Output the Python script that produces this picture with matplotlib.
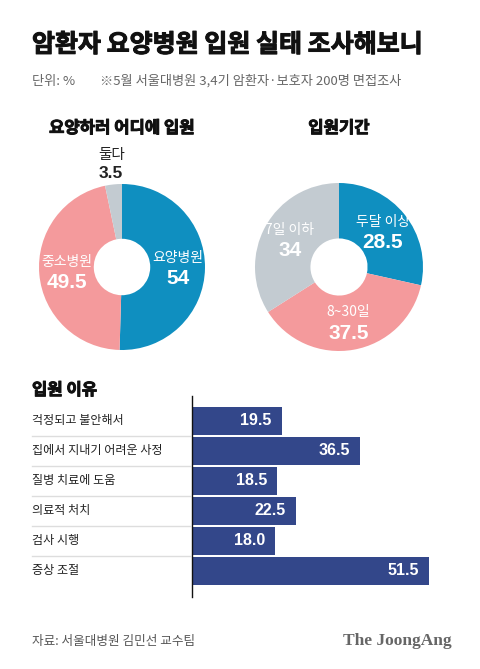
import matplotlib
matplotlib.use('Agg')
import matplotlib.pyplot as plt
import numpy as np
from matplotlib.transforms import blended_transform_factory
from matplotlib.lines import Line2D
import matplotlib.patheffects as pe

plt.rcParams['font.family'] = ['Noto Sans CJK KR', 'DejaVu Sans']

# data
where_labels = ['요양병원', '중소병원', '둘다']
where_values = [54, 49.5, 3.5]
where_colors = ['#0f8fc0', '#f49a9c', '#c3cbd1']

period_labels = ['두달 이상', '8~30일', '7일 이하']
period_values = [28.5, 37.5, 34]
period_colors = ['#0f8fc0', '#f49a9c', '#c3cbd1']

reason_labels = ['걱정되고 불안해서', '집에서 지내기 어려운 사정', '질병 치료에 도움',
                 '의료적 처치', '검사 시행', '증상 조절']
reason_values = [19.5, 36.5, 18.5, 22.5, 18.0, 51.5]
bar_color = '#33478a'

W, H = 480, 669
fig = plt.figure(figsize=(W / 100, H / 100), dpi=100)
fig.patch.set_facecolor('white')

# slight stroke to thicken the bold korean headings
heavy = [pe.withStroke(linewidth=0.7, foreground='#111111')]


def fx(px):
    return px / W


def fy(py):
    return 1 - py / H


def px_axes(x0, y0, x1, y1):
    return fig.add_axes([fx(x0), fy(y1), fx(x1) - fx(x0), fy(y0) - fy(y1)])


# header
fig.text(fx(32), fy(45), '암환자 요양병원 입원 실태 조사해보니', fontsize=18, fontweight='heavy',
         color='#111111', va='center', path_effects=heavy)
fig.text(fx(32), fy(81), '단위: %', fontsize=9.5, color='#666666', va='center')
fig.text(fx(100), fy(81), '※5월 서울대병원 3,4기 암환자·보호자 200명 면접조사', fontsize=9.5,
         color='#666666', va='center')

num_font = ['Liberation Sans', 'DejaVu Sans']


def donut(cx, cy, r, values, labels, colors, title, outside=None):
    ax = px_axes(cx - r, cy - r, cx + r, cy + r)
    wedges, _ = ax.pie(values, colors=colors, startangle=90, counterclock=False,
                       radius=1, wedgeprops=dict(width=0.66, edgecolor='none'))
    ax.set_xlim(-1, 1)
    ax.set_ylim(-1, 1)
    ax.set_aspect('equal')
    ax.axis('off')
    total = sum(values)
    ang = 90.0
    for i, (v, lab) in enumerate(zip(values, labels)):
        span = 360.0 * v / total
        mid = np.deg2rad(ang - span / 2)
        ang -= span
        val = f'{v:g}'
        if outside is not None and i == outside:
            ax.annotate(lab, (0, 1), xytext=(-10, 29), textcoords='offset pixels',
                        ha='center', va='center', fontsize=10.5, color='#222222',
                        annotation_clip=False)
            ax.annotate(val, (0, 1), xytext=(-11, 11), textcoords='offset pixels',
                        ha='center', va='center', fontsize=12.5, fontweight='bold',
                        color='#222222', family=num_font, annotation_clip=False)
            continue
        x, y = 0.67 * np.cos(mid), 0.67 * np.sin(mid)
        ax.annotate(lab, (x, y), xytext=(0, 10), textcoords='offset pixels',
                    ha='center', va='center', fontsize=10, color='white')
        ax.annotate(val, (x, y), xytext=(0, -11), textcoords='offset pixels',
                    ha='center', va='center', fontsize=15, fontweight='bold',
                    color='white', family=num_font)
    fig.text(fx(cx), fy(128), title, fontsize=12, fontweight='heavy', color='#111111',
             ha='center', va='center', path_effects=heavy)
    return ax


donut(122, 267, 83, where_values, where_labels, where_colors, '요양하러 어디에 입원', outside=2)
donut(339, 267, 84, period_values, period_labels, period_colors, '입원기간')

# bar chart
fig.text(fx(32), fy(390), '입원 이유', fontsize=12, fontweight='heavy', color='#111111',
         va='center', path_effects=heavy)
px_per_unit = 4.6
ax = px_axes(192, 396, 470, 597)
y = np.arange(len(reason_values))
ax.barh(y, reason_values, height=0.92, color=bar_color, left=0)
ax.set_xlim(0, (470 - 192) / px_per_unit)
ax.set_ylim(5.87, -0.83)
ax.set_xticks([])
ax.set_yticks([])
for s in ['top', 'right', 'bottom']:
    ax.spines[s].set_visible(False)
ax.spines['left'].set_color('#111111')
ax.spines['left'].set_linewidth(1.0)
ax.patch.set_alpha(0)

trans = blended_transform_factory(fig.transFigure, ax.transData)
for i, (lab, v) in enumerate(zip(reason_labels, reason_values)):
    ax.text(fx(32), i, lab, transform=trans, ha='left', va='center', fontsize=8.7,
            color='#222222')
    ax.annotate(f'{v:.1f}', (v, i), xytext=(-10, 0), textcoords='offset pixels',
                ha='right', va='center', fontsize=11.5, fontweight='bold', color='white',
                family=num_font)
for i in range(len(reason_values) - 1):
    ax.add_line(Line2D([fx(32), fx(190)], [i + 0.5, i + 0.5], transform=trans,
                       color='#dddddd', lw=1.0, clip_on=False))

# footer
fig.text(fx(32), fy(642), '자료: 서울대병원 김민선 교수팀', fontsize=9.1, color='#555555', va='center')
fig.text(fx(452), fy(641), 'The JoongAng', fontsize=12.5, fontweight='bold', color='#666666',
         ha='right', va='center', family=['Liberation Serif', 'DejaVu Serif'])

fig.savefig('out.png', dpi=100, facecolor='white')
